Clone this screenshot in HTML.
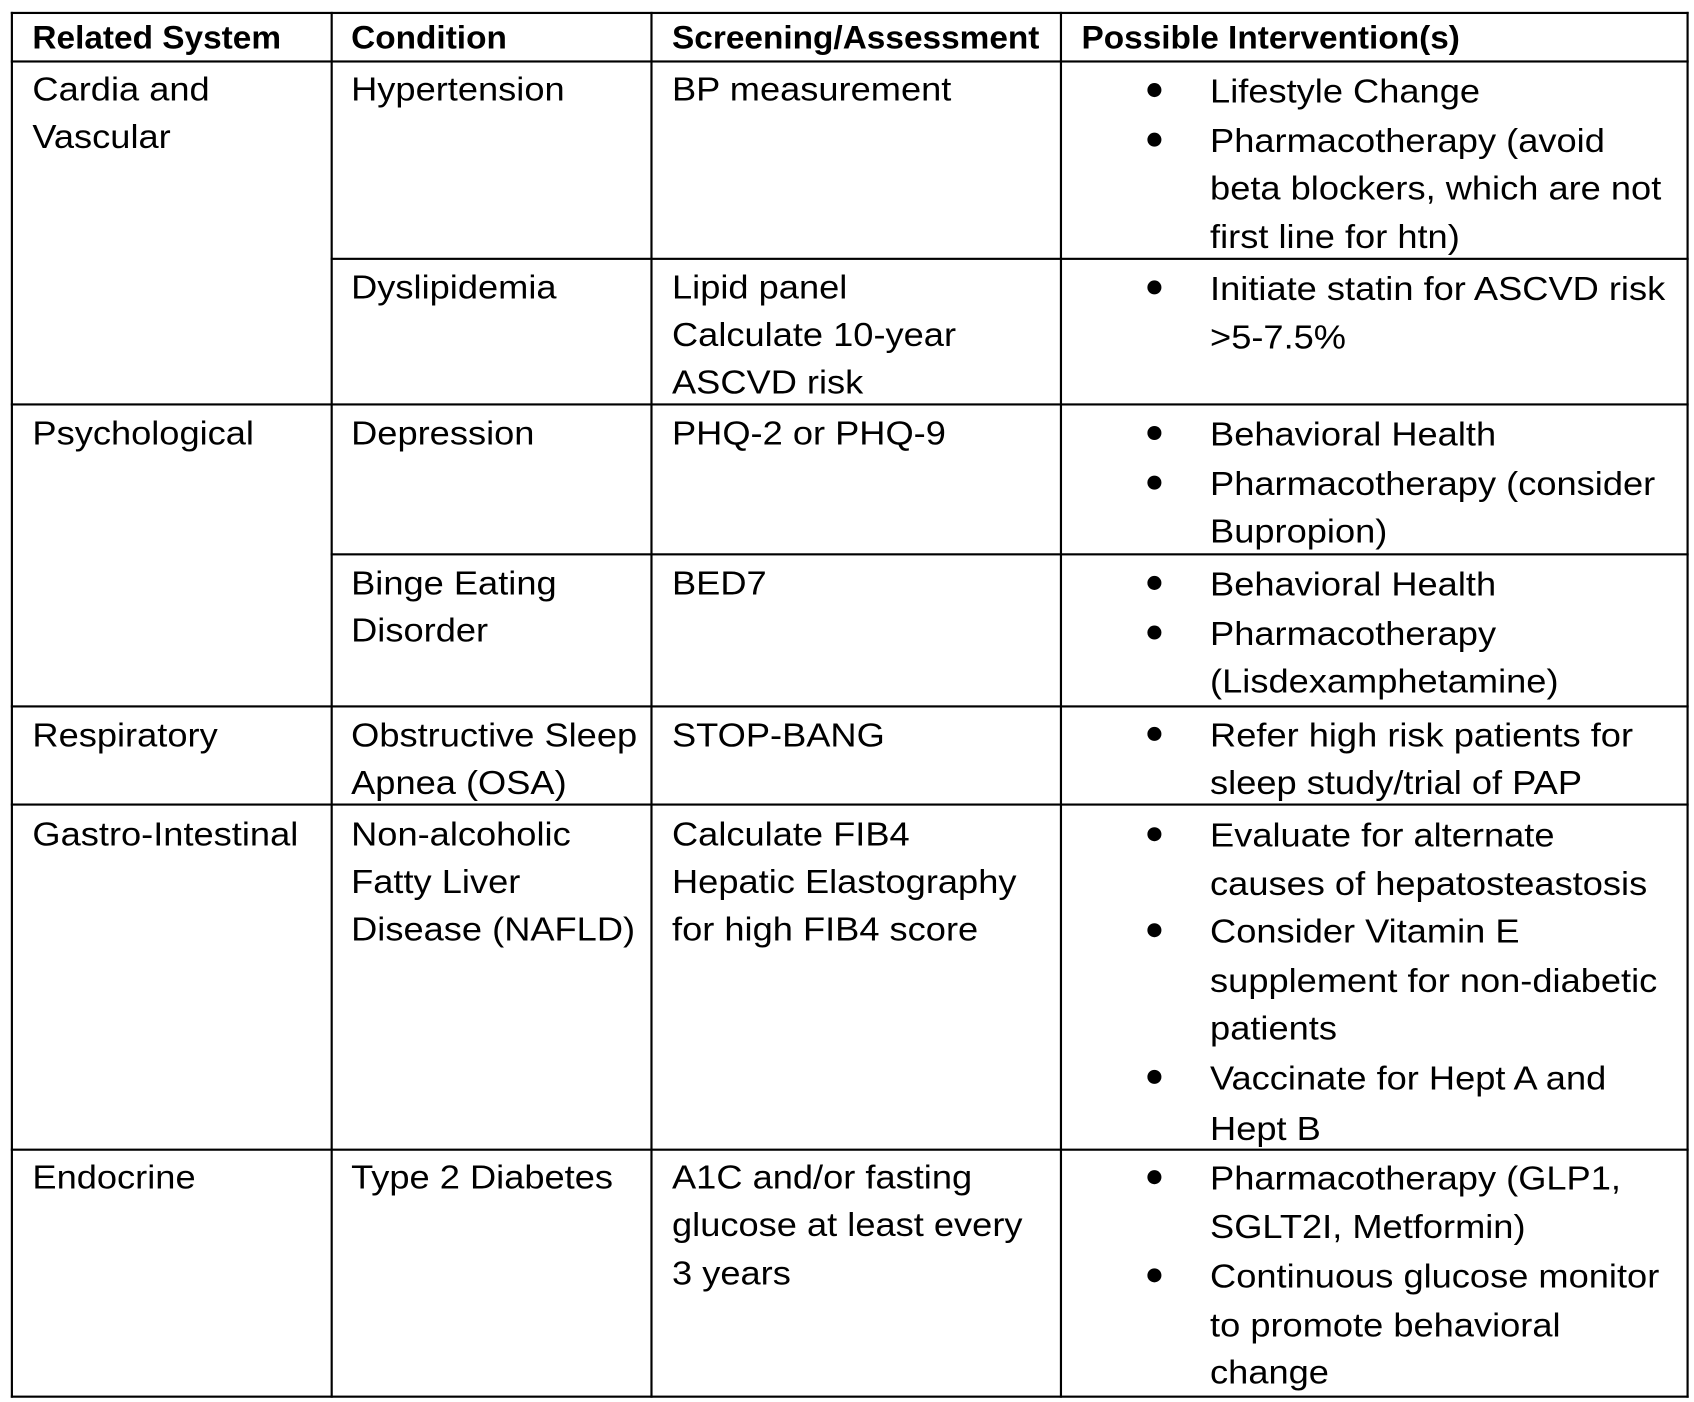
<!DOCTYPE html>
<html><head><meta charset="utf-8"><style>
html,body{margin:0;padding:0;background:#fff;width:1694px;height:1402px;overflow:hidden}
#c{position:absolute;left:0;top:0;width:1568px;height:1300px;transform:scale(1.0804,1.0785);transform-origin:0 0;font-family:"Liberation Sans",sans-serif;font-size:31px;color:#000}
.h,.v{position:absolute;background:#000}
.t{position:absolute;white-space:nowrap;line-height:44px;height:44px;transform:translateY(2px) scaleX(1.082);transform-origin:0 50%}
.t.b{font-size:30px;transform:translateY(1px) scaleX(1.03)}
.b{font-weight:bold}
.bu{position:absolute;width:13px;height:13px;border-radius:50%;background:#000}
</style></head><body><div id="c">
<div class="h" style="left:10px;top:11px;width:1553px;height:2px"></div>
<div class="h" style="left:10px;top:56px;width:1553px;height:2px"></div>
<div class="h" style="left:306px;top:239px;width:1257px;height:2px"></div>
<div class="h" style="left:10px;top:374px;width:1553px;height:2px"></div>
<div class="h" style="left:306px;top:513px;width:1257px;height:2px"></div>
<div class="h" style="left:10px;top:654px;width:1553px;height:2px"></div>
<div class="h" style="left:10px;top:745px;width:1553px;height:2px"></div>
<div class="h" style="left:10px;top:1065px;width:1553px;height:2px"></div>
<div class="h" style="left:10px;top:1294px;width:1553px;height:2px"></div>
<div class="v" style="left:10px;top:11px;width:2px;height:1285px"></div>
<div class="v" style="left:306px;top:11px;width:2px;height:1285px"></div>
<div class="v" style="left:602px;top:11px;width:2px;height:1285px"></div>
<div class="v" style="left:981px;top:11px;width:2px;height:1285px"></div>
<div class="v" style="left:1561px;top:11px;width:2px;height:1285px"></div>

<div class="t b" style="left:30px;top:13px">Related System</div>
<div class="t b" style="left:325px;top:13px">Condition</div>
<div class="t b" style="left:622px;top:13px">Screening/Assessment</div>
<div class="t b" style="left:1001px;top:13px">Possible Intervention(s)</div>

<div class="t" style="left:30px;top:59px">Cardia and</div>
<div class="t" style="left:30px;top:103px">Vascular</div>
<div class="t" style="left:325px;top:59px">Hypertension</div>
<div class="t" style="left:622px;top:59px">BP measurement</div>
<div class="t" style="left:1120px;top:61px">Lifestyle Change</div>
<div class="t" style="left:1120px;top:107px">Pharmacotherapy (avoid</div>
<div class="t" style="left:1120px;top:151px">beta blockers, which are not</div>
<div class="t" style="left:1120px;top:196px">first line for htn)</div>

<div class="t" style="left:325px;top:243px">Dyslipidemia</div>
<div class="t" style="left:622px;top:243px">Lipid panel</div>
<div class="t" style="left:622px;top:287px">Calculate 10-year</div>
<div class="t" style="left:622px;top:331px">ASCVD risk</div>
<div class="t" style="left:1120px;top:244px">Initiate statin for ASCVD risk</div>
<div class="t" style="left:1120px;top:289px">&gt;5-7.5%</div>

<div class="t" style="left:30px;top:378px">Psychological</div>
<div class="t" style="left:325px;top:378px">Depression</div>
<div class="t" style="left:622px;top:378px">PHQ-2 or PHQ-9</div>
<div class="t" style="left:1120px;top:379px">Behavioral Health</div>
<div class="t" style="left:1120px;top:425px">Pharmacotherapy (consider</div>
<div class="t" style="left:1120px;top:469px">Bupropion)</div>

<div class="t" style="left:325px;top:517px">Binge Eating</div>
<div class="t" style="left:325px;top:561px">Disorder</div>
<div class="t" style="left:622px;top:517px">BED7</div>
<div class="t" style="left:1120px;top:518px">Behavioral Health</div>
<div class="t" style="left:1120px;top:564px">Pharmacotherapy</div>
<div class="t" style="left:1120px;top:608px">(Lisdexamphetamine)</div>

<div class="t" style="left:30px;top:658px">Respiratory</div>
<div class="t" style="left:325px;top:658px">Obstructive Sleep</div>
<div class="t" style="left:325px;top:702px">Apnea (OSA)</div>
<div class="t" style="left:622px;top:658px">STOP-BANG</div>
<div class="t" style="left:1120px;top:658px">Refer high risk patients for</div>
<div class="t" style="left:1120px;top:702px">sleep study/trial of PAP</div>

<div class="t" style="left:30px;top:750px">Gastro-Intestinal</div>
<div class="t" style="left:325px;top:750px">Non-alcoholic</div>
<div class="t" style="left:325px;top:794px">Fatty Liver</div>
<div class="t" style="left:325px;top:838px">Disease (NAFLD)</div>
<div class="t" style="left:622px;top:750px">Calculate FIB4</div>
<div class="t" style="left:622px;top:794px">Hepatic Elastography</div>
<div class="t" style="left:622px;top:838px">for high FIB4 score</div>
<div class="t" style="left:1120px;top:751px">Evaluate for alternate</div>
<div class="t" style="left:1120px;top:796px">causes of hepatosteastosis</div>
<div class="t" style="left:1120px;top:840px">Consider Vitamin E</div>
<div class="t" style="left:1120px;top:886px">supplement for non-diabetic</div>
<div class="t" style="left:1120px;top:930px">patients</div>
<div class="t" style="left:1120px;top:976px">Vaccinate for Hept A and</div>
<div class="t" style="left:1120px;top:1023px">Hept B</div>

<div class="t" style="left:30px;top:1068px">Endocrine</div>
<div class="t" style="left:325px;top:1068px">Type 2 Diabetes</div>
<div class="t" style="left:622px;top:1068px">A1C and/or fasting</div>
<div class="t" style="left:622px;top:1112px">glucose at least every</div>
<div class="t" style="left:622px;top:1157px">3 years</div>
<div class="t" style="left:1120px;top:1069px">Pharmacotherapy (GLP1,</div>
<div class="t" style="left:1120px;top:1114px">SGLT2I, Metformin)</div>
<div class="t" style="left:1120px;top:1160px">Continuous glucose monitor</div>
<div class="t" style="left:1120px;top:1205px">to promote behavioral</div>
<div class="t" style="left:1120px;top:1249px">change</div>

<div class="bu" style="left:1062px;top:77px"></div>
<div class="bu" style="left:1062px;top:123px"></div>
<div class="bu" style="left:1062px;top:260px"></div>
<div class="bu" style="left:1062px;top:395px"></div>
<div class="bu" style="left:1062px;top:441px"></div>
<div class="bu" style="left:1062px;top:534px"></div>
<div class="bu" style="left:1062px;top:580px"></div>
<div class="bu" style="left:1062px;top:674px"></div>
<div class="bu" style="left:1062px;top:767px"></div>
<div class="bu" style="left:1062px;top:856px"></div>
<div class="bu" style="left:1062px;top:992px"></div>
<div class="bu" style="left:1062px;top:1085px"></div>
<div class="bu" style="left:1062px;top:1176px"></div>
</div></body></html>
